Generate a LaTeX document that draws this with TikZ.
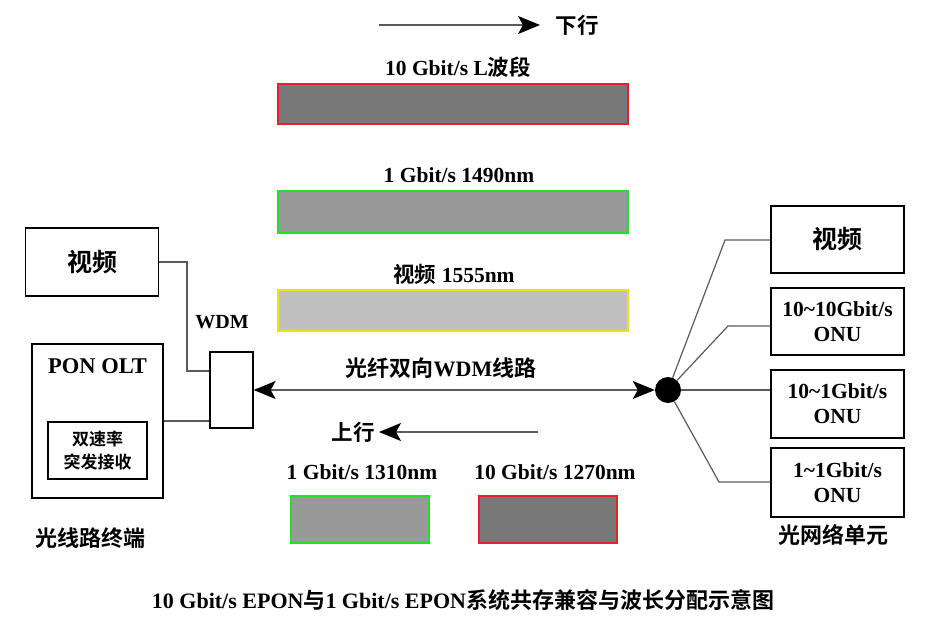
\documentclass[tikz,border=0pt]{standalone}
\usepackage{fontspec}
\setmainfont{Liberation Serif}
\newfontfamily\cjk{Noto Sans CJK SC}[BoldFont={Noto Sans CJK SC Bold}]
\usetikzlibrary{arrows.meta}
\newcommand\zh[1]{{\cjk #1}}
\definecolor{darkbar}{HTML}{787878}
\definecolor{midbar}{HTML}{999999}
\definecolor{lightbar}{HTML}{C0C0C0}
\definecolor{linegray}{HTML}{5A5A5A}
\definecolor{redline}{HTML}{E8202A}
\definecolor{greenline}{HTML}{22E022}
\definecolor{yellowline}{HTML}{F0E020}
\begin{document}
\begin{tikzpicture}[x=1pt,y=-1pt,
  >={Stealth[length=22pt,width=18pt,inset=5pt,color=black]},
  box/.style={draw=black, line width=1.3pt, inner sep=0pt, align=center},
  bar/.style={line width=1.2pt, inner sep=0pt},
  conn/.style={draw=linegray, line width=1.2pt},
  lbl/.style={inner sep=0pt, font=\bfseries\fontsize{21.5}{23}\selectfont}
]
\useasboundingbox (0,0) rectangle (948,629);

% top direction arrow
\coordinate (d0) at (379,25);
\coordinate (d1) at (540,25);
\node[lbl] (down) at (577,25) {\zh{下行}};
\draw[conn,->] (d0) -- (d1);

% downstream bars
\node[lbl] (l1) at (458,67) {10 Gbit/s L\zh{波段}};
\node[bar, draw=redline, fill=darkbar, minimum width=350pt, minimum height=40pt] (bar1) at (453,104) {};
\node[lbl] (l2) at (459,175) {1 Gbit/s 1490nm};
\node[bar, draw=greenline, fill=midbar, minimum width=350pt, minimum height=42pt] (bar2) at (453,212) {};
\node[lbl] (l3) at (454,274) {\zh{视频} 1555nm};
\node[bar, draw=yellowline, fill=lightbar, minimum width=350pt, minimum height=41pt] (bar3) at (453,310.5) {};

% left side
\node[box, minimum width=133pt, minimum height=68pt, font=\bfseries\fontsize{25}{27}\selectfont] (lv) at (92,262) {\zh{视频}};
\node[box, minimum width=131pt, minimum height=154pt] (olt) at (97.5,421) {};
\node[lbl, font=\bfseries\fontsize{22.5}{24}\selectfont] (olttxt) at (97.5,366) {PON OLT};
\node[box, line width=1.1pt, minimum width=99pt, minimum height=57pt, font=\bfseries\fontsize{17}{23}\selectfont] (rx) at (97.5,450.5) {\zh{双速率}\\\zh{突发接收}};
\node[box, minimum width=43pt, minimum height=76pt] (wdm) at (231.5,390) {};
\node[lbl, font=\bfseries\fontsize{20}{22}\selectfont] (wdmtxt) at (222,322) {WDM};
\node[lbl, font=\bfseries\fontsize{22}{24}\selectfont] (oltname) at (90,538) {\zh{光线路终端}};

\coordinate (k1) at (187,371);
\draw[conn] (lv.east) -| (k1) -- (k1 -| wdm.west);
\draw[conn] (olt.east) -- (olt.east -| wdm.west);

% splitter
\node[circle, fill=black, minimum size=26pt, inner sep=0pt] (dot) at (668,390) {};
\draw[conn, <->] (wdm.east) -- (dot.west);
\node[lbl, font=\bfseries\fontsize{22}{24}\selectfont] (fiber) at (441,368) {\zh{光纤双向}WDM\zh{线路}};

% upstream arrow
\coordinate (u0) at (538,432);
\coordinate (u1) at (379,432);
\node[lbl] (up) at (353,432) {\zh{上行}};
\draw[conn,->] (u0) -- (u1);

% upstream bars
\node[lbl] (l4) at (362,472) {1 Gbit/s 1310nm};
\node[lbl] (l5) at (555,472) {10 Gbit/s 1270nm};
\node[bar, draw=greenline, fill=midbar, minimum width=138pt, minimum height=47pt] (bar4) at (360,519.5) {};
\node[bar, draw=redline, fill=darkbar, minimum width=138pt, minimum height=47pt] (bar5) at (548,519.5) {};

% right side ONUs
\node[box, minimum width=133pt, minimum height=67pt, font=\bfseries\fontsize{25}{27}\selectfont] (rv) at (837.5,239.5) {\zh{视频}};
\node[box, minimum width=133pt, minimum height=67pt, font=\bfseries\fontsize{21.5}{25}\selectfont] (onu1) at (837.5,321.5) {10\char`\~10Gbit/s\\ONU};
\node[box, minimum width=133pt, minimum height=68pt, font=\bfseries\fontsize{21.5}{25}\selectfont] (onu2) at (837.5,404) {10\char`\~1Gbit/s\\ONU};
\node[box, minimum width=133pt, minimum height=69pt, font=\bfseries\fontsize{21.5}{25}\selectfont] (onu3) at (837.5,482.5) {1\char`\~1Gbit/s\\ONU};
\node[lbl, font=\bfseries\fontsize{22}{24}\selectfont] (onuname) at (833,535) {\zh{光网络单元}};

\coordinate (b1) at (725,240);
\coordinate (b2) at (728,326);
\coordinate (b3) at (719,482);
\draw[conn] (dot) -- (b1) -- (b1 -| rv.west);
\draw[conn] (dot) -- (b2) -- (b2 -| onu1.west);
\draw[conn] (dot) -- (dot -| onu2.west);
\draw[conn] (dot) -- (b3) -- (b3 -| onu3.west);

% caption
\node[lbl, font=\bfseries\fontsize{22}{24}\selectfont] (caption) at (463,600) {10 Gbit/s EPON\zh{与}1 Gbit/s EPON\zh{系统共存兼容与波长分配示意图}};
\end{tikzpicture}
\end{document}
